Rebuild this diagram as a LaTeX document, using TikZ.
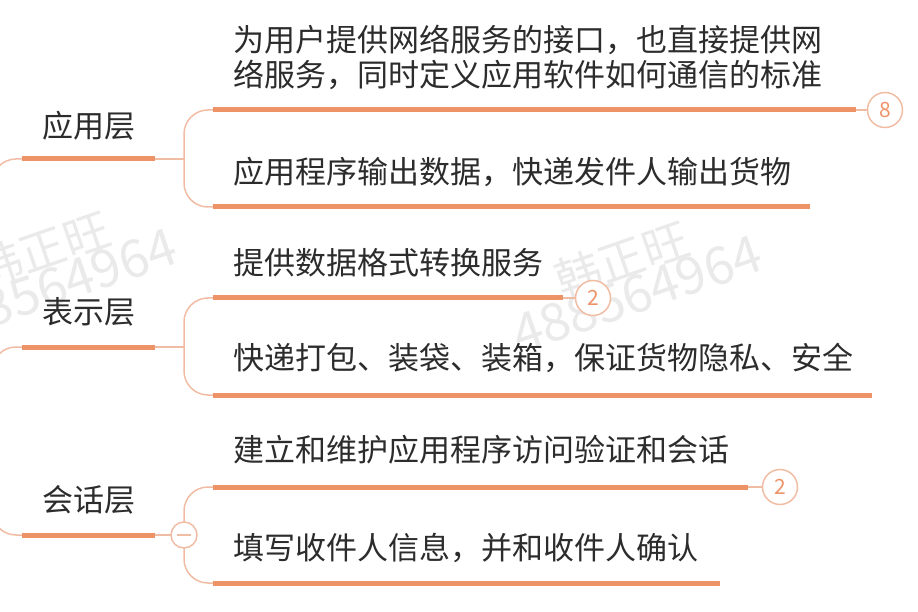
\documentclass[tikz,border=0pt]{standalone}
\usepackage{fontspec}
\setmainfont{Noto Sans CJK SC}
\usetikzlibrary{positioning}
\definecolor{barcol}{RGB}{238,146,104}
\definecolor{twigcol}{RGB}{241,188,164}
\definecolor{txtcol}{RGB}{44,44,44}
\definecolor{wmcol}{RGB}{234,234,234}

\begin{document}
\begin{tikzpicture}[
    x=1pt, y=-1pt,
    every node/.style={font=\fontsize{31}{35}\selectfont, text=txtcol},
    layer/.style={inner sep=0pt},
    leaf/.style={anchor=west, inner sep=0pt, align=left},
    bar/.style={line width=5pt, draw=barcol},
    twig/.style={line width=1.5pt, draw=twigcol, rounded corners=24pt},
    badge/.style={circle, draw=twigcol, line width=1.5pt, fill=white, minimum size=35pt, inner sep=0pt, text=barcol, font=\fontsize{21}{21}\selectfont},
    foldbtn/.style={circle, draw=twigcol, line width=1.5pt, fill=white, minimum size=26pt, inner sep=0pt},
    wmtext/.style={text=wmcol, rotate=19, inner sep=0pt}
]
\useasboundingbox (0,0) rectangle (918,612);
\clip (0,0) rectangle (918,612);

% Watermark
\node[wmtext, font=\fontsize{46}{46}\selectfont] (wm1) at (43,250) {韩正旺};
\node[wmtext, font=\fontsize{52}{52}\selectfont] (wm2) at (52,287) {488564964};
\node[wmtext, font=\fontsize{46}{46}\selectfont] (wm3) at (622,260) {韩正旺};
\node[wmtext, font=\fontsize{52}{52}\selectfont] (wm4) at (637,294) {488564964};

% Left: layers
\node[layer] (app) at (89,126) {应用层};
\node[layer] (pre) at (89,312) {表示层};
\node[layer] (ses) at (89,500) {会话层};

\coordinate (appL) at (22,159);  \coordinate (appR) at (155,159);  \coordinate (appJ) at (184,159);
\coordinate (preL) at (22,347);  \coordinate (preR) at (155,347);  \coordinate (preJ) at (184,347);
\coordinate (sesL) at (22,535);  \coordinate (sesR) at (155,535);  \coordinate (sesJ) at (184,535);

\draw[twig] (-8,240) |- (appL);
\draw[twig] (-8,420) |- (preL);
\draw[twig] (-8,440) |- (sesL);

\draw[bar] (appL) -- (appR);
\draw[bar] (preL) -- (preR);
\draw[bar] (sesL) -- (sesR);
\draw[twig] (appR) -- (appJ);
\draw[twig] (preR) -- (preJ);
\draw[twig] (sesR) -- (sesJ);

% Right: leaves
\node[leaf] (app1) at (233,57) {为用户提供网络服务的接口，也直接提供网\\络服务，同时定义应用软件如何通信的标准};
\node[leaf] (app2) at (233,172) {应用程序输出数据，快递发件人输出货物};
\node[leaf] (pre1) at (233,263) {提供数据格式转换服务};
\node[leaf] (pre2) at (233,358) {快递打包、装袋、装箱，保证货物隐私、安全};
\node[leaf] (ses1) at (233,450) {建立和维护应用程序访问验证和会话};
\node[leaf] (ses2) at (233,548) {填写收件人信息，并和收件人确认};

\coordinate (app1L) at (213,110);  \coordinate (app1R) at (856,110);
\coordinate (app2L) at (213,207);  \coordinate (app2R) at (810,207);
\coordinate (pre1L) at (213,298);  \coordinate (pre1R) at (563,298);
\coordinate (pre2L) at (213,395);  \coordinate (pre2R) at (872,395);
\coordinate (ses1L) at (213,487);  \coordinate (ses1R) at (748,487);
\coordinate (ses2L) at (213,583);  \coordinate (ses2R) at (720,583);

\draw[twig] (appJ) |- (app1L);
\draw[twig] (appJ) |- (app2L);
\draw[twig] (preJ) |- (pre1L);
\draw[twig] (preJ) |- (pre2L);
\draw[twig] (sesJ) |- (ses1L);
\draw[twig] (sesJ) |- (ses2L);

\draw[bar] (app1L) -- (app1R);
\draw[bar] (app2L) -- (app2R);
\draw[bar] (pre1L) -- (pre1R);
\draw[bar] (pre2L) -- (pre2R);
\draw[bar] (ses1L) -- (ses1R);
\draw[bar] (ses2L) -- (ses2R);

% Badges and fold button
\node[badge] (app1n) at (885,110) {8};
\node[badge] (pre1n) at (593,298) {2};
\node[badge] (ses1n) at (780,487) {2};
\draw[twig] (app1R) -- (app1n);
\draw[twig] (pre1R) -- (pre1n);
\draw[twig] (ses1R) -- (ses1n);

\node[foldbtn] (sesM) at (sesJ) {};
\draw[twigcol, line width=1.5pt] ([xshift=-7pt]sesM.center) -- ([xshift=7pt]sesM.center);

\end{tikzpicture}
\end{document}
